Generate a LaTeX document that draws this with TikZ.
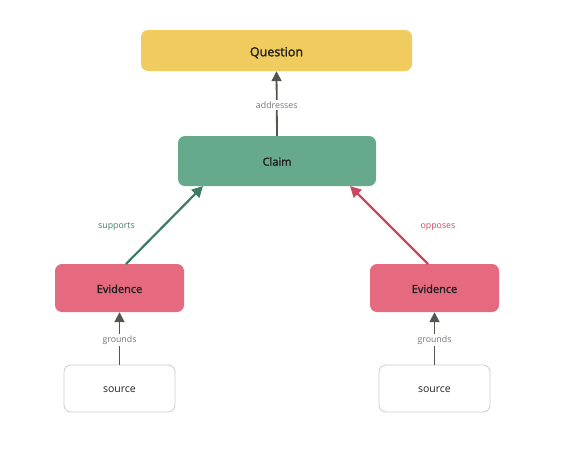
\documentclass[tikz,border=0pt]{standalone}
\usepackage{fontspec}
\setmainfont{Open Sans}
\newfontfamily\semib{Open Sans}[FakeBold=2]
\usetikzlibrary{arrows.meta}
\definecolor{qfill}{HTML}{F0CB5E}
\definecolor{cfill}{HTML}{66A98C}
\definecolor{efill}{HTML}{E56A80}
\definecolor{sborder}{HTML}{CCCCCC}
\definecolor{agray}{HTML}{555550}
\definecolor{lgray}{HTML}{777777}
\definecolor{sgreen}{HTML}{3D7D65}
\definecolor{ored}{HTML}{C94862}
\definecolor{tdark}{HTML}{222222}
\tikzset{
  box/.style={rectangle, rounded corners=7pt, inner sep=0pt, text=tdark, text depth=0pt},
  qbox/.style={box, fill=qfill, minimum width=271pt, minimum height=41pt, text height=11.5pt, font=\fontsize{12.5}{14}\selectfont\semib},
  cbox/.style={box, fill=cfill, minimum width=198pt, minimum height=50pt, text height=9.3pt, font=\fontsize{11}{13}\selectfont\semib},
  ebox/.style={box, fill=efill, minimum width=129pt, minimum height=48pt, text height=9.8pt, font=\fontsize{11}{13}\selectfont\semib},
  sbox/.style={box, fill=white, draw=sborder, line width=0.8pt, minimum width=111pt, minimum height=47pt, text height=8pt, font=\fontsize{10.5}{12}\selectfont},
  garrow/.style={draw=agray, line width=1.8pt, -{Triangle[length=10pt,width=10pt]}},
  sarrow/.style={draw=sgreen, line width=2.2pt, -{Triangle[length=11pt,width=11pt]}},
  oarrow/.style={draw=ored, line width=2.2pt, -{Triangle[length=11pt,width=11pt]}},
  lbl/.style={font=\fontsize{8.8}{10}\selectfont, inner sep=1.5pt, yshift=-1.8pt},
}
\begin{document}
\begin{tikzpicture}[x=1pt,y=-1pt]
\useasboundingbox (0,0) rectangle (583,448);
\node[qbox] (q) at (276.5,50.5) {Question};
\node[cbox] (c) at (277,161) {Claim};
\node[ebox] (e1) at (119.5,288) {Evidence};
\node[ebox] (e2) at (434.5,288) {Evidence};
\node[sbox] (s1) at (119.5,388.5) {source};
\node[sbox] (s2) at (434.5,388.5) {source};
\draw[garrow] (c.north) -- node[lbl, fill=white, text=lgray] {addresses} (q.south);
\draw[garrow] (s1.north) -- node[lbl, fill=white, text=lgray] {grounds} (e1.south);
\draw[garrow] (s2.north) -- node[lbl, fill=white, text=lgray] {grounds} (e2.south);
\coordinate (e1t) at (126,264);
\coordinate (c1b) at (203,186);
\coordinate (e2t) at (428,264);
\coordinate (c2b) at (350,186);
\draw[sarrow] (e1t) -- node[lbl, text=sgreen, xshift=-48pt] {supports} (c1b);
\draw[oarrow] (e2t) -- node[lbl, text=ored, xshift=49pt] {opposes} (c2b);
\end{tikzpicture}
\end{document}
